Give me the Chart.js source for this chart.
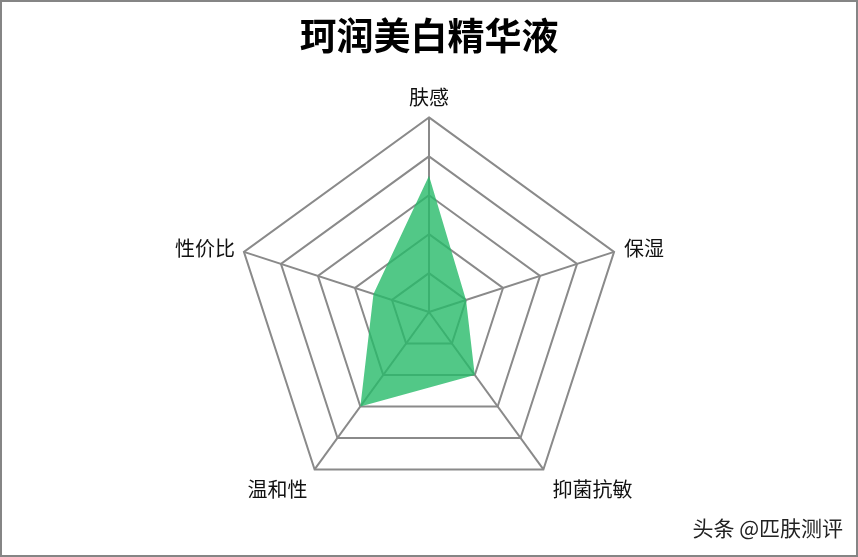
<!DOCTYPE html>
<html>
<head>
<meta charset="utf-8">
<script src="https://cdn.jsdelivr.net/npm/chart.js@4/dist/chart.umd.min.js"></script>
<style>
  html, body { margin: 0; padding: 0; background: #fff; }
  #wrap { position: relative; width: 858px; height: 557px; }
  #frame { position: absolute; left: 0; top: 0; width: 858px; height: 557px; box-sizing: border-box; border: 2px solid #858585; pointer-events: none; }
  #mark { position: absolute; right: 15px; bottom: 15px; font-family: "Noto Sans CJK SC", sans-serif; font-size: 21px; color: #222; text-shadow: 1px 1px 1px #fff; }
</style>
</head>
<body>
<div id="wrap">
  <canvas id="radar" width="858" height="557"></canvas>
  <div id="frame"></div>
  <div id="mark">头条 @匹肤测评</div>
</div>
<script>
const chartTitle = '珂润美白精华液';
const categories = ['肤感', '保湿', '抑菌抗敏', '温和性', '性价比'];
const scores = [3.5, 1, 2, 3, 1.5];
const scaleMax = 5;

const labelFont = '20px "Noto Sans CJK SC", sans-serif';

// draw the axis names next to each outer corner, placed like the original
const cornerLabels = {
    id: 'cornerLabels',
    afterDraw(chart) {
        const scale = chart.scales.r;
        const c = chart.ctx;
        c.save();
        c.font = labelFont;
        c.fillStyle = '#111';
        c.textBaseline = 'middle';
        chart.data.labels.forEach((text, i) => {
            const p = scale.getPointPosition(i, scale.drawingArea);
            const dx = p.x - scale.xCenter;
            const dy = p.y - scale.yCenter;
            let x = p.x, y = p.y;
            if (Math.abs(dx) < 1) {
                c.textAlign = 'center';
                y = dy < 0 ? p.y - 20 : p.y + 20;
            } else if (dy < 0) {
                c.textAlign = dx > 0 ? 'left' : 'right';
                x = dx > 0 ? p.x + 10 : p.x - 9;
                y = p.y - 3;
            } else {
                c.textAlign = dx > 0 ? 'left' : 'right';
                x = dx > 0 ? p.x + 9 : p.x - 7;
                y = p.y + 20;
            }
            c.fillText(text, x, y);
        });
        c.restore();
    }
};

const ctx = document.getElementById('radar').getContext('2d');
const chart = new Chart(ctx, {
    type: 'radar',
    data: {
        labels: categories,
        datasets: [{
            data: scores,
            backgroundColor: 'rgba(39, 186, 105, 0.8)',
            borderWidth: 0,
            pointRadius: 0,
            fill: true
        }]
    },
    options: {
        responsive: false,
        animation: false,
        layout: {
            padding: { top: 0, bottom: 33, left: 0, right: 0 }
        },
        plugins: {
            legend: { display: false },
            tooltip: { enabled: false },
            title: {
                display: true,
                text: chartTitle,
                color: '#000',
                font: { family: '"Noto Sans CJK SC", sans-serif', size: 37, weight: 'bold' },
                padding: { top: 14, bottom: 11 }
            }
        },
        scales: {
            r: {
                min: 0,
                max: scaleMax,
                ticks: { display: false, stepSize: 1 },
                grid: { color: '#8a8a8a', lineWidth: 2 },
                angleLines: { color: '#8a8a8a', lineWidth: 2 },
                pointLabels: {
                    // kept for layout only, the plugin draws the visible names
                    color: 'rgba(0,0,0,0)',
                    padding: 8,
                    font: { family: '"Noto Sans CJK SC", sans-serif', size: 20 }
                }
            }
        }
    },
    plugins: [cornerLabels]
});
</script>
</body>
</html>
